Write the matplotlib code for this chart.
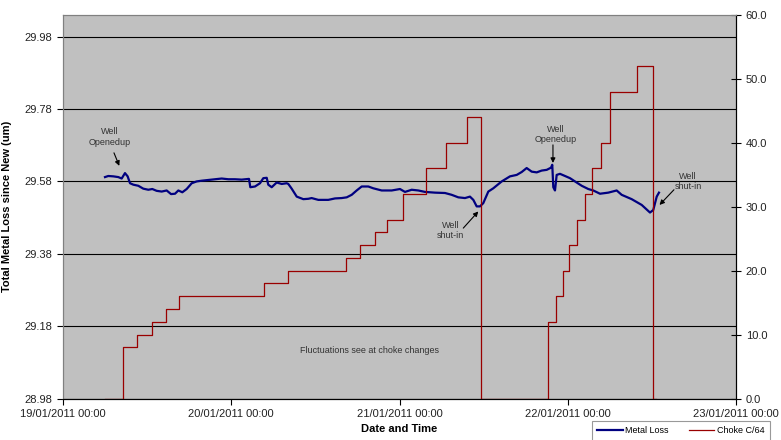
import numpy as np
import pandas as pd
import matplotlib
matplotlib.use('Agg')
import matplotlib.pyplot as plt
import matplotlib.dates as mdates
from matplotlib.ticker import FixedLocator, FormatStrFormatter

plt.rcParams['font.family'] = ['Liberation Sans', 'DejaVu Sans']

# metal loss (um), hours after 19/01/2011 00:00
loss_hours = [5.99, 6.46, 7.18, 7.89, 8.37, 8.84, 9.22, 9.56, 10.03, 10.74, 11.45, 12.17,
              12.74, 13.36, 14.08, 14.79, 15.41, 15.98, 16.45, 17.02, 17.64, 18.36, 19.07,
              19.78, 20.73, 21.68, 22.64, 23.58, 24.53, 25.49, 26.53, 26.72, 27.39, 28.10,
              28.57, 29.06, 29.28, 29.77, 30.48, 31.20, 31.91, 32.14, 32.62, 33.34, 34.28,
              34.99, 35.47, 36.42, 37.84, 38.80, 39.75, 40.47, 41.18, 41.89, 42.61, 43.55,
              44.26, 45.46, 46.89, 48.07, 48.78, 49.74, 50.68, 51.64, 53.06, 54.49, 55.44,
              56.39, 57.34, 58.05, 58.53, 59.01, 59.48, 59.95, 60.67, 61.38, 62.58, 63.76,
              64.72, 65.43, 66.14, 66.86, 67.57, 68.28, 69.00, 69.61, 69.79, 69.94, 70.18,
              70.42, 70.89, 71.61, 72.32, 73.03, 73.99, 74.93, 75.64, 76.60, 77.78, 78.98,
              79.69, 81.12, 82.55, 83.73, 84.20, 84.69, 85.01]
loss_um = [29.592, 29.595, 29.594, 29.592, 29.588, 29.603, 29.594, 29.575, 29.571, 29.568,
           29.560, 29.557, 29.559, 29.554, 29.552, 29.555, 29.545, 29.546, 29.555, 29.550,
           29.559, 29.575, 29.580, 29.582, 29.584, 29.586, 29.588, 29.586, 29.586, 29.585,
           29.587, 29.564, 29.566, 29.575, 29.589, 29.590, 29.571, 29.564, 29.577, 29.573,
           29.575, 29.573, 29.560, 29.538, 29.531, 29.532, 29.534, 29.529, 29.529, 29.533,
           29.534, 29.536, 29.543, 29.555, 29.566, 29.566, 29.561, 29.555, 29.555, 29.559,
           29.551, 29.557, 29.555, 29.551, 29.549, 29.548, 29.543, 29.536, 29.534, 29.538,
           29.529, 29.511, 29.511, 29.520, 29.552, 29.561, 29.580, 29.594, 29.598, 29.606,
           29.617, 29.607, 29.605, 29.610, 29.612, 29.618, 29.626, 29.564, 29.555, 29.598,
           29.601, 29.595, 29.589, 29.580, 29.568, 29.559, 29.555, 29.546, 29.549, 29.555,
           29.543, 29.531, 29.515, 29.494, 29.501, 29.538, 29.549]

# choke setting (1/64 in), value holds until next time
choke_hours = [5.99, 8.52, 10.56, 12.65, 14.65, 16.55, 28.71, 32.14, 40.37, 42.41, 44.50,
               46.26, 48.45, 51.78, 54.63, 57.58, 59.58, 69.22, 70.32, 71.36, 72.22, 73.36,
               74.46, 75.50, 76.70, 78.03, 81.83, 84.20, 84.59]
choke_c64 = [0, 8, 10, 12, 14, 16, 18, 20, 22, 24, 26, 28, 32, 36, 40, 44, 0, 12, 16, 20,
             24, 28, 32, 36, 40, 48, 52, 0, 0]

start = mdates.date2num(pd.Timestamp('2011-01-19'))
def hrs(h):
    return start + np.asarray(h) / 24.0

fig = plt.figure(figsize=(7.81, 4.40), dpi=100)
ax = fig.add_axes([63/781, 1-398.5/440, 673/781, 383.5/440])
ax.set_facecolor('#c0c0c0')
ax2 = ax.twinx()

ax.plot(hrs(loss_hours), loss_um, color='#000080', lw=1.6, label='Metal Loss')
ax2.step(hrs(choke_hours), choke_c64, where='post', color='#990000', lw=0.9, label='Choke C/64')

ax.set_xlim(start, start + 4)
ax.set_ylim(28.98, 30.04)
ax2.set_ylim(0, 60)

ax.xaxis.set_major_locator(mdates.DayLocator())
ax.xaxis.set_major_formatter(mdates.DateFormatter('%d/%m/%Y %H:%M'))
ax.yaxis.set_major_locator(FixedLocator([28.98, 29.18, 29.38, 29.58, 29.78, 29.98]))
ax.yaxis.set_major_formatter(FormatStrFormatter('%.2f'))
ax2.yaxis.set_major_locator(FixedLocator([0, 10, 20, 30, 40, 50, 60]))
ax2.yaxis.set_major_formatter(FormatStrFormatter('%.1f'))

ax.grid(axis='y', color='black', lw=0.8)
ax.set_axisbelow(True)
ax.tick_params(axis='both', labelsize=8, labelcolor='#222222', length=4, width=0.8)
ax2.tick_params(axis='y', labelsize=8, labelcolor='#222222', direction='inout', length=7, width=0.8)

ax.spines['top'].set_color('#808080')
ax2.spines['top'].set_color('#808080')
ax.spines['left'].set_color('#808080')
ax2.spines['left'].set_color('#808080')
ax2.spines['right'].set_color('black')

ax.set_xlabel('Date and Time', fontsize=8, fontweight='bold', labelpad=4)
ax.set_ylabel('Total Metal Loss since New (um)', fontsize=8, fontweight='bold')
ax.yaxis.set_label_coords((12 - 63) / 673, 0.5)

# notes
note = dict(fontsize=6.5, color='#333333', ha='center', va='center', linespacing=1.2)
arr = dict(arrowstyle='-|>', color='black', lw=0.8, mutation_scale=7, shrinkA=0, shrinkB=0)
ax.text(hrs(6.7), 29.703, 'Well\nOpenedup', **note)
ax.annotate('', xy=(hrs(8.03), 29.623), xytext=(hrs(7.27), 29.659), arrowprops=arr)
ax.text(hrs(70.25), 29.710, 'Well\nOpenedup', **note)
ax.annotate('', xy=(hrs(69.89), 29.631), xytext=(hrs(69.89), 29.681), arrowprops=arr)
ax.text(hrs(55.27), 29.445, 'Well\nshut-in', **note)
ax.annotate('', xy=(hrs(59.24), 29.497), xytext=(hrs(57.10), 29.451), arrowprops=arr)
ax.text(hrs(89.15), 29.579, 'Well\nshut-in', **note)
ax.annotate('', xy=(hrs(85.09), 29.515), xytext=(hrs(87.15), 29.557), arrowprops=arr)
ax.text(hrs(43.79), 29.113, 'Fluctuations see at choke changes', **note)

h1, l1 = ax.get_legend_handles_labels()
h2, l2 = ax2.get_legend_handles_labels()
leg = fig.legend(h1 + h2, l1 + l2, loc='upper left', bbox_to_anchor=(592/781, 1-421/440),
                 ncol=2, fontsize=6.5, frameon=True, fancybox=False, borderpad=0.6,
                 handlelength=2.8, handletextpad=0.3, columnspacing=2.2, borderaxespad=0)
leg.get_frame().set_edgecolor('#808080')
leg.get_frame().set_linewidth(0.8)

fig.savefig('out.png', dpi=100)
